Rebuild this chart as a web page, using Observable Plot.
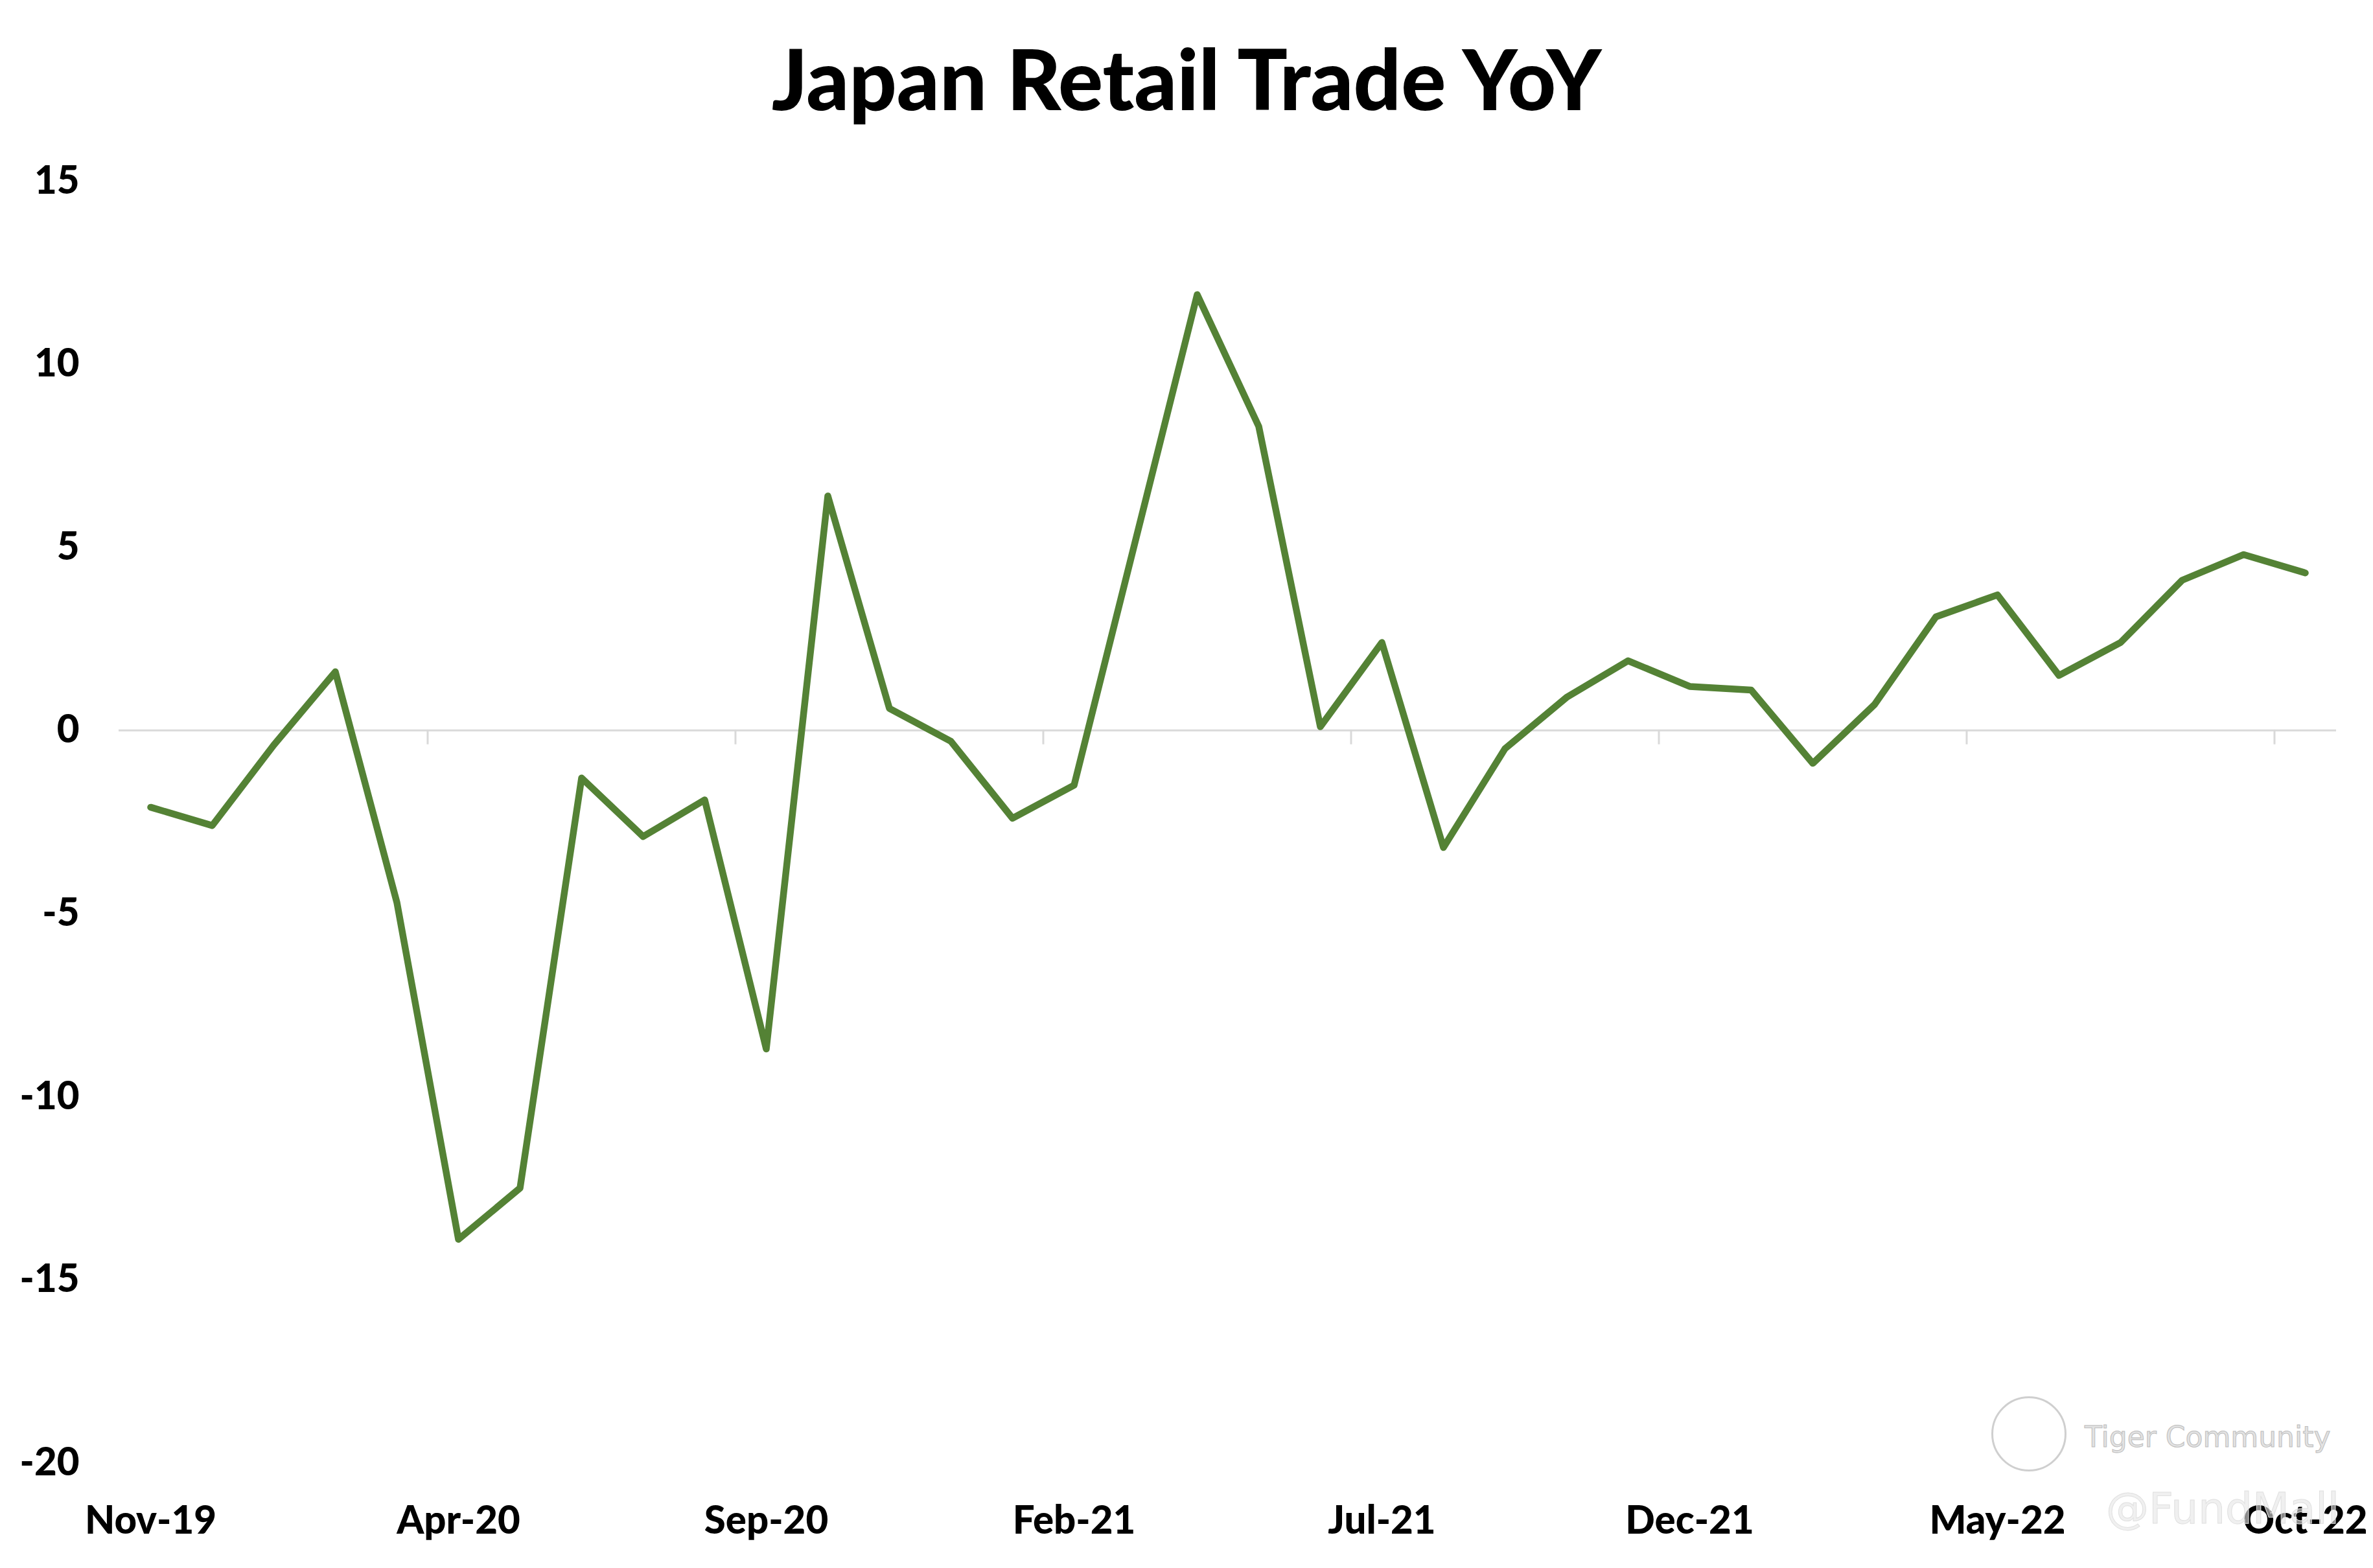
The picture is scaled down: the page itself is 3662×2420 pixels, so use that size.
<!DOCTYPE html>
<html>
<head>
<meta charset="utf-8">
<script src="https://cdn.jsdelivr.net/npm/d3@7"></script>
<script src="https://cdn.jsdelivr.net/npm/@observablehq/plot@0.6"></script>
<style>
  html, body { margin: 0; padding: 0; background: #fff; }
  #wrap { position: relative; width: 3662px; height: 2420px; overflow: hidden; }
  #title { height: 200px; box-sizing: border-box; padding-top: 43px; text-align: center;
           font-family: Lato, "Open Sans", sans-serif; font-weight: 900; font-size: 129px;
           line-height: 1.2; color: #000; white-space: nowrap; }
  #wm1 { position: absolute; left: 3217px; top: 2192px; font-family: "DejaVu Sans", sans-serif;
         font-size: 44px; color: #e3e3e3; -webkit-text-stroke: 1px #bdbdbd; }
  #logo { position: absolute; left: 3073px; top: 2155px; width: 116px; height: 116px;
          border: 3px solid #cfcfcf; border-radius: 50%; box-sizing: border-box; }
  #wm2 { position: absolute; left: 3250px; top: 2290px; font-family: "DejaVu Sans", sans-serif;
         font-size: 66px; color: rgba(230,230,230,0.6); -webkit-text-stroke: 1px #e0e0e0; }
</style>
</head>
<body>
<div id="wrap">
  <div id="title">Japan Retail Trade YoY</div>
  <div id="chart"></div>
  <div id="logo"></div>
  <div id="wm1">Tiger Community</div>
  <div id="wm2">@FundMall</div>
</div>
<script>
const months = ["Nov-19","Dec-19","Jan-20","Feb-20","Mar-20","Apr-20","May-20","Jun-20","Jul-20","Aug-20","Sep-20","Oct-20",
  "Nov-20","Dec-20","Jan-21","Feb-21","Mar-21","Apr-21","May-21","Jun-21","Jul-21","Aug-21","Sep-21","Oct-21",
  "Nov-21","Dec-21","Jan-22","Feb-22","Mar-22","Apr-22","May-22","Jun-22","Jul-22","Aug-22","Sep-22","Oct-22"];
const retailYoY = [-2.1,-2.6,-0.4,1.6,-4.7,-13.9,-12.5,-1.3,-2.9,-1.9,-8.7,6.4,
  0.6,-0.3,-2.4,-1.5,5.2,11.9,8.3,0.1,2.4,-3.2,-0.5,0.9,
  1.9,1.2,1.1,-0.9,0.7,3.1,3.7,1.5,2.4,4.1,4.8,4.3];
const xTickLabels = ["Nov-19","Apr-20","Sep-20","Feb-21","Jul-21","Dec-21","May-22","Oct-22"];
const yTickValues = [15,10,5,0,-5,-10,-15,-20];
const zeroLineTicks = ["Apr-20","Sep-20","Feb-21","Jul-21","Dec-21","May-22","Oct-22"];

const W = 3662, H = 2220, ML = 183, MR = 57;
const step = (W - ML - MR) / months.length;
const data = months.map((m, i) => ({month: m, value: retailYoY[i]}));

const chart = Plot.plot({
  width: W, height: H,
  marginLeft: ML, marginRight: MR, marginTop: 79, marginBottom: 163,
  style: {fontFamily: "Lato, 'Open Sans', sans-serif", fontWeight: "900", fontSize: "60px", color: "#000", background: "#fff"},
  x: {type: "point", domain: months, padding: 0.5, ticks: xTickLabels, tickSize: 0, tickPadding: 67, label: null},
  y: {domain: [-20, 15], ticks: yTickValues, tickSize: 0, tickPadding: 61, label: null, tickFormat: d => String(d)},
  marks: [
    Plot.ruleY([0], {stroke: "#d9d9d9", strokeWidth: 3}),
    Plot.ruleX(zeroLineTicks, {x: d => d, y1: 0, y2: 0, dx: -step / 2, insetBottom: -22, stroke: "#d9d9d9", strokeWidth: 3}),
    Plot.line(data, {x: "month", y: "value", stroke: "#548235", strokeWidth: 10.5, strokeLinecap: "round", strokeLinejoin: "round"})
  ]
});
document.getElementById("chart").appendChild(chart);
</script>
</body>
</html>
